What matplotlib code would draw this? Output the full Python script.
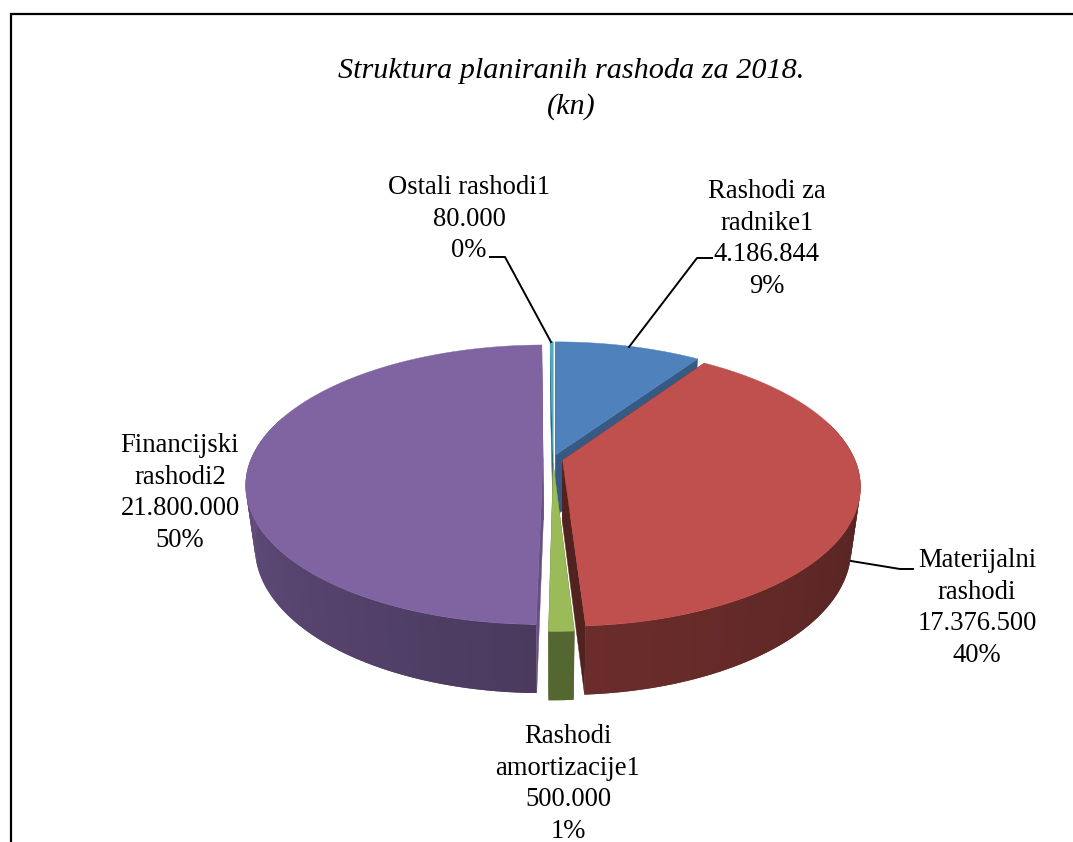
import numpy as np
import matplotlib
matplotlib.use("Agg")
import matplotlib.pyplot as plt
from matplotlib.patches import Polygon
from matplotlib.colors import to_rgb

plt.rcParams['font.family'] = ['Liberation Serif', 'DejaVu Serif']

# chart data, clockwise from 12 o'clock
names = ["Rashodi za\nradnike1", "Materijalni\nrashodi", "Rashodi\namortizacije1",
         "Financijski\nrashodi2", "Ostali rashodi1"]
values = [4186844, 17376500, 500000, 21800000, 80000]
value_labels = ["4.186.844", "17.376.500", "500.000", "21.800.000", "80.000"]
percents = ["9%", "40%", "1%", "50%", "0%"]
colors = ["#4F81BD", "#C0504D", "#9BBB59", "#8064A2", "#4BACC6"]

# wall shading at the start / end angle of each slice, and for the cut faces
wall_start = [0.6, 0.36, 0.55, 0.58, 0.6]
wall_end = [0.6, 0.56, 0.55, 0.97, 0.6]
face_shade = [0.70, 0.42, 0.55, 0.80, 0.6]
draw_order = [3, 4, 0, 2, 1]

# label centres in pixels
label_xy = [(767, 239), (977, 608), (568, 784), (180, 493), (469, 219)]

# pie geometry (pixels)
cx, cy = 553, 459
rx, ry = 292, 135
persp = 0.184
depth = 63
shrink = 0.03
explode = 0.034


def project(u, v, z=0.0):
    w = 1 + persp * v + shrink * z
    return cx + rx * u / w, cy - ry * v / w + depth * z / w


def slice_points(th, off, z=0.0):
    u = np.sin(th) + off[0]
    v = np.cos(th) + off[1]
    return np.column_stack(project(u, v, z))


fig = plt.figure(figsize=(10.73, 8.42), dpi=100)
ax = fig.add_axes([0, 0, 1, 1])
ax.set_xlim(0, 1073)
ax.set_ylim(842, 0)
ax.axis("off")

total = sum(values)
ends = np.cumsum(values) / total * 2 * np.pi
starts = np.concatenate([[0], ends[:-1]])

for i in draw_order:
    a0, a1 = starts[i], ends[i]
    mid = (a0 + a1) / 2
    off = (explode * np.sin(mid), explode * np.cos(mid))
    base = np.array(to_rgb(colors[i]))
    apex_top = np.array(project(off[0], off[1], 0))
    apex_bot = np.array(project(off[0], off[1], 1))

    # cut faces
    for a in (a0, a1):
        p_top = slice_points(np.array([a]), off, 0)[0]
        p_bot = slice_points(np.array([a]), off, 1)[0]
        col = base * face_shade[i]
        ax.add_patch(Polygon([apex_top, p_top, p_bot, apex_bot], closed=True,
                             facecolor=col, edgecolor=col, lw=0.3))

    # outer wall, strips overlap the next one so no seams show
    n = max(2, int((a1 - a0) / 0.02))
    th = np.linspace(a0, a1, n + 1)
    top = slice_points(th, off, 0)
    bot = slice_points(th, off, 1)
    for k in range(n):
        if np.cos(th[k]) > 0.3:
            continue
        f = wall_start[i] + (wall_end[i] - wall_start[i]) * k / n
        e = min(k + 2, n)
        pts = np.vstack([top[k:e + 1], bot[k:e + 1][::-1]])
        ax.add_patch(Polygon(pts, closed=True, facecolor=base * f, edgecolor="none", lw=0))

    # top surface
    th = np.linspace(a0, a1, max(3, int((a1 - a0) / 0.01)))
    arc = slice_points(th, off, 0)
    ax.add_patch(Polygon(np.vstack([apex_top, arc]), closed=True,
                         facecolor=colors[i], edgecolor=colors[i], lw=0.3))

# labels
for i in range(len(values)):
    ax.text(label_xy[i][0], label_xy[i][1],
            f"{names[i]}\n{value_labels[i]}\n{percents[i]}",
            ha="center", va="center", fontsize=19.2, linespacing=1.34, color="black")

ax.text(571, 89, "Struktura planiranih rashoda za 2018.\n(kn)", ha="center", va="center",
        fontsize=21.8, style="italic", linespacing=1.4, color="black")

# leader lines
ax.plot([490, 505, 551], [257, 257, 342], color="black", lw=1.4)
ax.plot([712, 697, 629], [258, 258, 347], color="black", lw=1.4)
ax.plot([913, 900, 851], [569, 569, 561], color="black", lw=1.4)

# chart frame, open on the right
ax.plot([11, 11, 1073], [842, 14, 14], color="black", lw=1.6, solid_joinstyle="miter")

fig.savefig("out.png", dpi=100)
